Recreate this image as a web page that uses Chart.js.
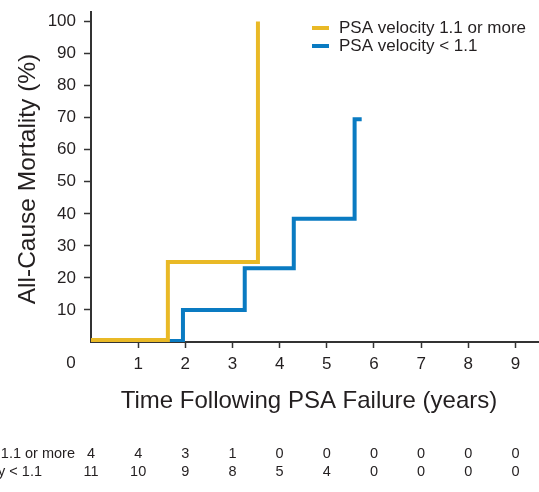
<!DOCTYPE html>
<html>
<head>
<meta charset="utf-8">
<script src="https://cdn.jsdelivr.net/npm/chart.js@4/dist/chart.umd.min.js"></script>
<style>
  body { margin: 0; background: #fff; }
  canvas { display: block; }
</style>
</head>
<body>
<canvas id="kmChart" width="539" height="492"></canvas>
<script>
// Kaplan-Meier style steps: times (years) and cumulative mortality (%)
const highTimes = [0, 1.63, 3.54];
const highMortality = [0.6, 25, 100];
const lowTimes = [0, 1.95, 3.26, 4.3, 5.59, 5.74];
const lowMortality = [0.3, 10, 23, 38.5, 69.5, 69.5];

const seriesLabels = ['PSA velocity 1.1 or more', 'PSA velocity < 1.1'];
const xTicks = [0, 1, 2, 3, 4, 5, 6, 7, 8, 9];
const yTicks = [10, 20, 30, 40, 50, 60, 70, 80, 90, 100];

// numbers at risk under each year
const riskYears = [0, 1, 2, 3, 4, 5, 6, 7, 8, 9];
const riskHigh = [4, 4, 3, 1, 0, 0, 0, 0, 0, 0];
const riskLow = [11, 10, 9, 8, 5, 4, 0, 0, 0, 0];

const YELLOW = '#E9B926';
const BLUE = '#0A7BC2';
const INK = '#231F20';
const FONT = '"Liberation Sans", Arial, sans-serif';

const toPoints = (xs, ys) => xs.map((x, i) => ({ x: x, y: ys[i] }));

// axis titles, legend, the "0" origin label and the at-risk table
const extras = {
  id: 'extras',
  afterDraw(chart) {
    const ctx = chart.ctx;
    const xs = chart.scales.x;
    ctx.save();
    ctx.fillStyle = INK;

    ctx.font = '17px ' + FONT;
    ctx.textAlign = 'center';
    ctx.textBaseline = 'middle';
    ctx.fillText('0', 71, 363);

    ctx.font = '24px ' + FONT;
    ctx.textBaseline = 'alphabetic';
    ctx.fillText('Time Following PSA Failure (years)', 309, 408);

    ctx.save();
    ctx.font = '24.5px ' + FONT;
    ctx.translate(35, 179);
    ctx.rotate(-Math.PI / 2);
    ctx.fillText('All-Cause Mortality (%)', 0, 0);
    ctx.restore();

    // legend
    const colors = [YELLOW, BLUE];
    ctx.font = '17px ' + FONT;
    ctx.textAlign = 'left';
    ctx.textBaseline = 'middle';
    seriesLabels.forEach((lab, i) => {
      const y = 28 + i * 18;
      ctx.fillStyle = colors[i];
      ctx.fillRect(312, y - 2, 17, 4);
      ctx.fillStyle = INK;
      ctx.fillText(lab, 339, y);
    });

    // numbers at risk
    ctx.font = '14.5px ' + FONT;
    ctx.textAlign = 'right';
    ctx.fillText(seriesLabels[0], 75, 454);
    ctx.fillText(seriesLabels[1], 42, 472);
    ctx.textAlign = 'center';
    riskYears.forEach((yr, i) => {
      const px = xs.getPixelForValue(yr);
      ctx.fillText(String(riskHigh[i]), px, 454);
      ctx.fillText(String(riskLow[i]), px, 472);
    });
    ctx.restore();
  }
};

new Chart(document.getElementById('kmChart'), {
  type: 'line',
  data: {
    datasets: [
      {
        label: seriesLabels[0],
        data: toPoints(highTimes, highMortality),
        borderColor: YELLOW,
        borderWidth: 4,
        stepped: 'before',
        pointRadius: 0,
        fill: false,
        borderJoinStyle: 'miter',
        borderCapStyle: 'butt'
      },
      {
        label: seriesLabels[1],
        data: toPoints(lowTimes, lowMortality),
        borderColor: BLUE,
        borderWidth: 4,
        stepped: 'before',
        pointRadius: 0,
        fill: false,
        borderJoinStyle: 'miter',
        borderCapStyle: 'butt'
      }
    ]
  },
  options: {
    responsive: false,
    animation: false,
    layout: { padding: { top: 12, right: 0, left: 0, bottom: 0 } },
    plugins: {
      legend: { display: false },
      tooltip: { enabled: false }
    },
    scales: {
      x: {
        type: 'linear',
        min: 0,
        max: 9.5,
        afterBuildTicks: (axis) => { axis.ticks = xTicks.map(v => ({ value: v })); },
        afterFit: (axis) => { axis.height = 150; axis.paddingLeft = 0; axis.paddingRight = 0; },
        border: { display: true, color: '#333', width: 2 },
        grid: {
          drawOnChartArea: false,
          drawTicks: true,
          tickLength: 6,
          tickWidth: 1.5,
          tickColor: (c) => c.tick && c.tick.value === 0 ? 'rgba(0,0,0,0)' : '#333'
        },
        ticks: {
          color: INK,
          font: { family: FONT, size: 17 },
          padding: 6,
          maxRotation: 0,
          callback: (v) => v === 0 ? '' : String(v)
        }
      },
      y: {
        min: 0,
        max: 103,
        afterBuildTicks: (axis) => { axis.ticks = yTicks.map(v => ({ value: v })); },
        afterFit: (axis) => { axis.width = 91; axis.paddingTop = 0; axis.paddingBottom = 0; },
        border: { display: true, color: '#333', width: 2 },
        grid: {
          drawOnChartArea: false,
          drawTicks: true,
          tickLength: 7,
          tickWidth: 1.5,
          tickColor: '#333'
        },
        ticks: {
          color: INK,
          font: { family: FONT, size: 17 },
          padding: 8
        }
      }
    }
  },
  plugins: [extras]
});
</script>
</body>
</html>
